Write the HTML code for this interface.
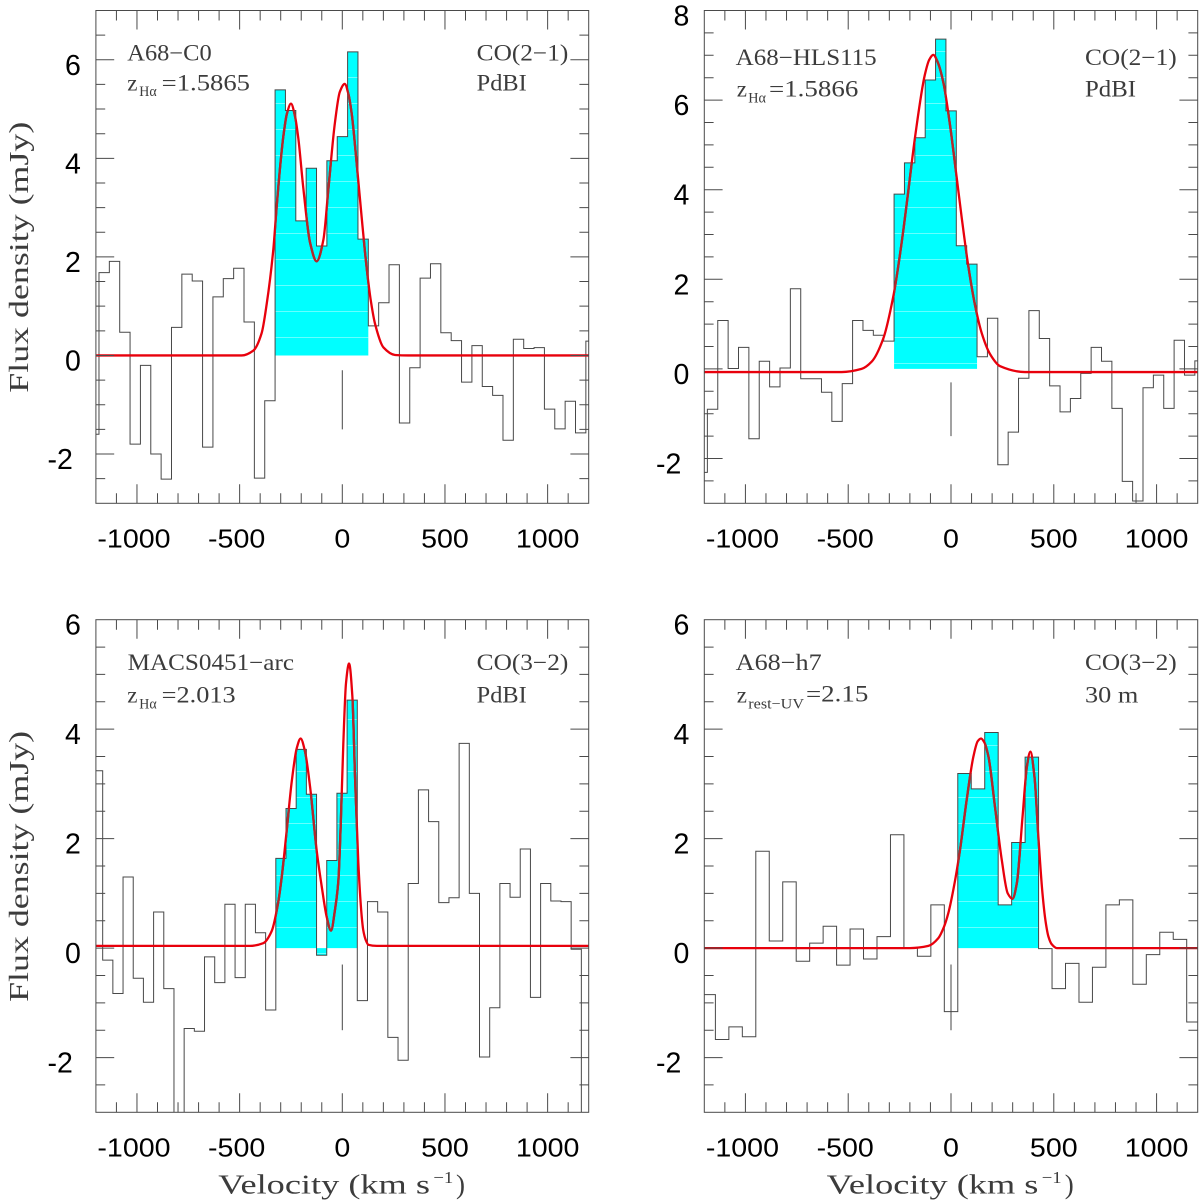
<!DOCTYPE html>
<html lang="en">
<head>
<meta charset="utf-8">
<title>CO line spectra</title>
<style>
html,body{margin:0;padding:0;background:#fff;}
svg{display:block;}
.serif{font-family:"Liberation Serif",serif;font-size:23px;fill:#3c3c3c;}
.sub{font-family:"Liberation Serif",serif;font-size:15px;fill:#3c3c3c;}
.title{font-family:"Liberation Serif",serif;font-size:27px;fill:#3c3c3c;}
.sup{font-family:"Liberation Serif",serif;font-size:17px;fill:#3c3c3c;}
.tick{font-family:"Liberation Sans",sans-serif;font-size:28.5px;fill:#000;}
</style>
</head>
<body>
<svg id="figure" xmlns="http://www.w3.org/2000/svg" width="1200" height="1203" viewBox="0 0 1200 1203">
  <defs>
    <pattern id="bands-top" patternUnits="userSpaceOnUse" width="10" height="26" y="25"><rect width="10" height="1" fill="#fff" opacity="0.4"/></pattern>
    <pattern id="bands-bottom" patternUnits="userSpaceOnUse" width="10" height="26" y="17"><rect width="10" height="1" fill="#fff" opacity="0.4"/></pattern>
  </defs>
  <rect width="1200" height="1203" fill="#fff"/>
  <g id="plots"></g>

  <g>
    <text class="serif" x="127.3" y="60.7" textLength="84.4" lengthAdjust="spacingAndGlyphs">A68−C0</text>
    <text class="serif" x="127.3" y="90.7">z</text>
    <text class="sub" x="139.3" y="96" textLength="17.4" lengthAdjust="spacingAndGlyphs">Hα</text>
    <text class="serif" x="161.7" y="90.7" textLength="88.3" lengthAdjust="spacingAndGlyphs">=1.5865</text>
    <text class="serif" x="476.7" y="60.7" textLength="91.6" lengthAdjust="spacingAndGlyphs">CO(2−1)</text>
    <text class="serif" x="476.7" y="90.7" textLength="50" lengthAdjust="spacingAndGlyphs">PdBI</text>
    <text class="title" x="28" y="392.7" textLength="271" lengthAdjust="spacingAndGlyphs" transform="rotate(-90 28 392.7)">Flux density (mJy)</text>
  </g>

  <g>
    <text class="serif" x="735.7" y="65" textLength="141" lengthAdjust="spacingAndGlyphs">A68−HLS115</text>
    <text class="serif" x="736.7" y="96.7">z</text>
    <text class="sub" x="748.3" y="102.7" textLength="17.7" lengthAdjust="spacingAndGlyphs">Hα</text>
    <text class="serif" x="769" y="96.7" textLength="89.3" lengthAdjust="spacingAndGlyphs">=1.5866</text>
    <text class="serif" x="1085" y="65" textLength="91.7" lengthAdjust="spacingAndGlyphs">CO(2−1)</text>
    <text class="serif" x="1085" y="96.7" textLength="51" lengthAdjust="spacingAndGlyphs">PdBI</text>
  </g>

  <g>
    <text class="serif" x="127.7" y="670" textLength="166.3" lengthAdjust="spacingAndGlyphs">MACS0451−arc</text>
    <text class="serif" x="127.3" y="702.7">z</text>
    <text class="sub" x="139.3" y="708.3" textLength="17.4" lengthAdjust="spacingAndGlyphs">Hα</text>
    <text class="serif" x="161.7" y="702.7" textLength="74" lengthAdjust="spacingAndGlyphs">=2.013</text>
    <text class="serif" x="476.7" y="670" textLength="91.6" lengthAdjust="spacingAndGlyphs">CO(3−2)</text>
    <text class="serif" x="476.7" y="702.3" textLength="50" lengthAdjust="spacingAndGlyphs">PdBI</text>
    <text class="title" x="28" y="1001.9" textLength="271" lengthAdjust="spacingAndGlyphs" transform="rotate(-90 28 1001.9)">Flux density (mJy)</text>
    <text class="title" x="218.3" y="1193.3" textLength="211.7" lengthAdjust="spacingAndGlyphs">Velocity (km s</text>
    <text class="sup" x="433.3" y="1183" textLength="20" lengthAdjust="spacingAndGlyphs">−1</text>
    <text class="title" x="456" y="1193.3">)</text>
  </g>

  <g>
    <text class="serif" x="735.7" y="670" textLength="86" lengthAdjust="spacingAndGlyphs">A68−h7</text>
    <text class="serif" x="736.7" y="702.7">z</text>
    <text class="sub" x="748.3" y="708.3" textLength="55.7" lengthAdjust="spacingAndGlyphs">rest−UV</text>
    <text class="serif" x="806" y="701.7" textLength="62.3" lengthAdjust="spacingAndGlyphs">=2.15</text>
    <text class="serif" x="1085" y="670" textLength="91.7" lengthAdjust="spacingAndGlyphs">CO(3−2)</text>
    <text class="serif" x="1085" y="702.3" textLength="53.3" lengthAdjust="spacingAndGlyphs">30 m</text>
    <text class="title" x="826.7" y="1193.3" textLength="211.7" lengthAdjust="spacingAndGlyphs">Velocity (km s</text>
    <text class="sup" x="1041.7" y="1183" textLength="20" lengthAdjust="spacingAndGlyphs">−1</text>
    <text class="title" x="1064.7" y="1193.3">)</text>
  </g>
</svg>

<script>
// Shared tick labels
const xTickLabels = ['-1000', '-500', '0', '500', '1000'];
const yTickLabelsSix = ['-2', '0', '2', '4', '6'];
const yTickLabelsEight = ['-2', '0', '2', '4', '6', '8'];

// Panel A68-C0: histogram flux per velocity bin (mJy)
const c0Flux = [-1.60, 1.68, 1.91, 0.47, -1.80, -0.20, -2.00, -2.51, 0.57, 1.65, 1.51, -1.86, 1.19, 1.56, 1.77, 0.68, -2.49, -0.92, 5.39, 4.97, 2.73, 3.80, 2.22, 3.95, 4.44, 6.16, 2.36, 0.60, 1.07, 1.84, -1.37, -0.25, 1.57, 1.86, 0.46, 0.30, -0.54, 0.20, -0.63, -0.81, -1.72, 0.33, 0.14, 0.16, -1.09, -1.49, -0.93, -1.57, 0.29];
const c0FitVelocity = [-1200, -490, -433, -393, -368, -336, -320, -300, -287, -270, -250, -230, -214, -190, -157, -125, -92, -68, -36, -12, 12, 30, 46, 70, 94, 110, 127, 140, 159, 201, 257, 320, 1200];
const c0FitFlux = [0, 0, 0.10, 0.45, 1.05, 2.15, 3.00, 3.95, 4.45, 4.90, 5.11, 4.85, 4.40, 3.40, 2.29, 1.91, 2.35, 3.37, 4.72, 5.35, 5.51, 5.30, 4.90, 3.90, 2.82, 2.12, 1.48, 1.08, 0.65, 0.16, 0.01, 0, 0];

// Panel A68-HLS115
const hlsFlux = [-2.31, -0.90, 1.08, 0.01, 0.48, -1.56, 0.17, -0.40, 0.02, 1.79, -0.22, -0.22, -0.52, -1.17, -0.33, 1.08, 0.86, 0.75, 0.62, 3.90, 4.60, 5.16, 6.45, 7.36, 5.76, 2.75, 2.34, 0.27, 1.13, -2.14, -1.41, -0.21, 1.30, 0.68, -0.38, -0.96, -0.66, -0.10, 0.48, 0.17, -0.88, -2.51, -2.95, -0.42, -0.14, -0.88, 0.64, -0.14, 0.18];
const hlsFitVelocity = [-1200, -532, -435, -386, -330, -281, -264, -232, -208, -175, -127, -106, -86, -65, -37, -5, 28, 52, 84, 117, 150, 190, 239, 360, 1200];
const hlsFitFlux = [-0.07, -0.07, 0, 0.16, 0.67, 1.61, 2.07, 3.09, 3.96, 5.17, 6.57, 6.90, 7.01, 6.85, 6.39, 5.45, 4.26, 3.38, 2.30, 1.42, 0.79, 0.33, 0.06, -0.07, -0.07];

// Panel MACS0451-arc
const macsFlux = [3.24, -0.22, -0.83, 1.30, -0.55, -0.99, 0.66, -0.74, -3.50, -1.47, -1.52, -0.16, -0.63, 0.80, -0.54, 0.80, 0.28, -1.13, 1.64, 2.55, 3.63, 2.81, -0.13, 1.60, 2.83, 4.53, -0.96, 0.85, 0.66, -1.63, -2.05, 1.18, 2.89, 2.31, 0.83, 0.92, 3.74, 1.00, -1.99, -1.09, 1.18, 0.93, 1.81, -0.90, 1.18, 0.86, 0.85, -0.02, -3.50];
const macsFitVelocity = [-1200, -450, -385, -344, -312, -295, -271, -246, -222, -203, -182, -157, -125, -100, -76, -55, -36, -19, -8, 5, 18, 33, 49, 62, 78, 94, 102, 115, 127, 168, 1200];
const macsFitFlux = [0.04, 0.04, 0.09, 0.31, 0.84, 1.30, 2.14, 3.05, 3.65, 3.83, 3.60, 2.95, 1.79, 1.12, 0.57, 0.32, 0.69, 1.24, 2.22, 3.74, 4.84, 5.20, 4.60, 3.13, 1.56, 0.60, 0.33, 0.14, 0.06, 0.04, 0.04];

// Panel A68-h7
const h7Flux = [-0.85, -1.67, -1.44, -1.62, 1.77, 0.13, 1.21, -0.24, 0.09, 0.40, -0.31, 0.35, -0.20, 0.21, 2.07, 0.01, -0.15, 0.79, -1.16, 3.19, 2.91, 3.94, 0.79, 1.93, 3.49, -0.01, -0.74, -0.28, -0.99, -0.35, 0.79, 0.88, -0.66, -0.12, 0.29, 0.16, -1.35];
const h7FitVelocity = [-1200, -200, -110, -62, -35, -13, 19, 44, 76, 109, 130, 146, 162, 182, 214, 247, 276, 299, 320, 348, 369, 386, 406, 425, 445, 460, 474, 490, 515, 1200];
const h7FitFlux = [0, 0, 0.04, 0.18, 0.38, 0.64, 1.22, 1.80, 2.70, 3.50, 3.78, 3.83, 3.76, 3.50, 2.58, 1.61, 1.00, 0.90, 1.18, 2.40, 3.31, 3.59, 3.13, 2.03, 1.00, 0.49, 0.21, 0.07, 0, 0];

const SVG_NS = 'http://www.w3.org/2000/svg';
const plots = document.getElementById('plots');
const AXIS_COLOR = '#4a4a4a';

function makeEl(tag, attrs, parent) {
  const el = document.createElementNS(SVG_NS, tag);
  for (const k in attrs) el.setAttribute(k, attrs[k]);
  parent.appendChild(el);
  return el;
}

// Monotone cubic through the points
function smoothPath(xs, ys) {
  const n = xs.length;
  const sec = [];
  for (let i = 0; i < n - 1; i++) sec.push((ys[i + 1] - ys[i]) / (xs[i + 1] - xs[i]));
  const m = [sec[0]];
  for (let i = 1; i < n - 1; i++) {
    if (sec[i - 1] * sec[i] <= 0) { m.push(0); continue; }
    const h0 = xs[i] - xs[i - 1], h1 = xs[i + 1] - xs[i];
    const w1 = 2 * h1 + h0, w2 = h1 + 2 * h0;
    m.push((w1 + w2) / (w1 / sec[i - 1] + w2 / sec[i]));
  }
  m.push(sec[n - 2]);
  let d = 'M' + xs[0].toFixed(2) + ' ' + ys[0].toFixed(2);
  for (let i = 0; i < n - 1; i++) {
    const h = (xs[i + 1] - xs[i]) / 3;
    d += 'C' + (xs[i] + h).toFixed(2) + ' ' + (ys[i] + m[i] * h).toFixed(2) + ' ' +
      (xs[i + 1] - h).toFixed(2) + ' ' + (ys[i + 1] - m[i + 1] * h).toFixed(2) + ' ' +
      xs[i + 1].toFixed(2) + ' ' + ys[i + 1].toFixed(2);
  }
  return d;
}

function drawPanel(p) {
  const xMin = -1200, xMax = 1200;
  const xScale = v => p.left + (v - xMin) * (p.right - p.left) / (xMax - xMin);
  const yScale = f => p.top + (p.yMax - f) * (p.bottom - p.top) / (p.yMax - p.yMin);

  const g = makeEl('g', {}, plots);
  
  

  const clipId = 'clip-' + p.name;
  const clip = makeEl('clipPath', { id: clipId }, g);
  makeEl('rect', { x: p.left, y: p.top, width: p.right - p.left, height: p.bottom - p.top }, clip);

  const edge = i => xScale(p.binStart + i * p.binWidth);
  const base = yScale(0);

  // Cyan integrated region
  let fillD = 'M' + edge(p.fillFirst).toFixed(2) + ' ' + base.toFixed(2);
  for (let i = p.fillFirst; i <= p.fillLast; i++) {
    fillD += 'V' + yScale(p.flux[i]).toFixed(2) + 'H' + edge(i + 1).toFixed(2);
  }
  fillD += 'V' + base.toFixed(2) + 'Z';
  const fill = makeEl('path', { d: fillD, fill: '#00ffff', 'clip-path': 'url(#' + clipId + ')' }, g);
  
  
  const bands = makeEl('path', { d: fillD, fill: 'url(#' + p.bands + ')', 'clip-path': 'url(#' + clipId + ')' }, g);
  
  

  const fillClipId = 'fill-clip-' + p.name;
  const fillClip = makeEl('clipPath', { id: fillClipId }, g);
  makeEl('path', { d: fillD }, fillClip);

  // Step histogram
  let histD = 'M' + edge(0).toFixed(2) + ' ' + yScale(p.flux[0]).toFixed(2);
  for (let i = 0; i < p.flux.length; i++) {
    histD += 'V' + yScale(p.flux[i]).toFixed(2) + 'H' + edge(i + 1).toFixed(2);
  }
  const hist = makeEl('path', { d: histD, fill: 'none', stroke: '#484848', 'stroke-width': 1, 'clip-path': 'url(#' + clipId + ')' }, g);
  
  

  // Fitted curve
  const fitD = smoothPath(p.fitV.map(xScale), p.fitF.map(yScale));
  const fit = makeEl('path', {
    d: fitD,
    fill: 'none', stroke: '#e8000c', 'stroke-width': 2.3, 'clip-path': 'url(#' + clipId + ')'
  }, g);
  
  

  // Same curve where it crosses the cyan region (darker there in the reference)
  const fitOver = makeEl('path', {
    d: fitD,
    fill: 'none', stroke: '#b02a2c', 'stroke-width': 2.3, 'clip-path': 'url(#' + fillClipId + ')'
  }, g);
  
  

  // Systemic velocity marker
  const marker = makeEl('line', { x1: xScale(0), x2: xScale(0), y1: yScale(-0.3), y2: yScale(-1.5), stroke: '#444', 'stroke-width': 1 }, g);
  
  

  // Frame
  const frame = makeEl('rect', { x: p.left, y: p.top, width: p.right - p.left, height: p.bottom - p.top, fill: 'none', stroke: AXIS_COLOR, 'stroke-width': 1 }, g);
  
  

  // Ticks
  let tickD = '';
  for (let v = -1100; v <= 1100; v += 100) {
    const len = v % 500 === 0 ? 19 : 10;
    const x = xScale(v).toFixed(2);
    tickD += 'M' + x + ' ' + p.top + 'v' + len + 'M' + x + ' ' + p.bottom + 'v' + (-len);
  }
  for (let f = p.yMin + 0.5; f < p.yMax; f += 0.5) {
    const len = f % 2 === 0 ? 18.3 : 9.3;
    const y = yScale(f).toFixed(2);
    tickD += 'M' + p.left + ' ' + y + 'h' + len + 'M' + p.right + ' ' + y + 'h' + (-len);
  }
  const ticks = makeEl('path', { d: tickD, fill: 'none', stroke: AXIS_COLOR, 'stroke-width': 1 }, g);
  
  

  // X tick labels
  xTickLabels.forEach(label => {
    const v = Number(label);
    const x = xScale(v) + (v < 0 ? -3 : 0);
    const y = p.bottom + 44;
    const t = makeEl('text', { class: 'tick', 'text-anchor': 'middle', style: 'font-size:26px', transform: 'translate(' + x.toFixed(2) + ' ' + y.toFixed(2) + ') scale(1.1 1)' }, g);
    
    
    t.textContent = label;
  });

  // Y tick labels
  p.yLabels.forEach(label => {
    const f = Number(label);
    const anchorX = p.left + (f < 0 ? -23 : -15);
    const t = makeEl('text', { class: 'tick', 'text-anchor': 'end', x: anchorX.toFixed(2), y: (yScale(f) + 15).toFixed(2) }, g);
    
    
    t.textContent = label;
  });
}

drawPanel({ name: 'a68-c0', left: 95.9, right: 588.7, top: 10.5, bottom: 503.3, yMin: -3, yMax: 7, yLabels: yTickLabelsSix, flux: c0Flux, binStart: -1235.45, binWidth: 50.45, fillFirst: 18, fillLast: 26, fitV: c0FitVelocity, fitF: c0FitFlux, bands: 'bands-top' });
drawPanel({ name: 'a68-hls115', left: 704.3, right: 1197.7, top: 10.5, bottom: 503.3, yMin: -3, yMax: 8, yLabels: yTickLabelsEight, flux: hlsFlux, binStart: -1235.45, binWidth: 50.45, fillFirst: 19, fillLast: 26, fitV: hlsFitVelocity, fitF: hlsFitFlux, bands: 'bands-top' });
drawPanel({ name: 'macs0451-arc', left: 95.9, right: 588.7, top: 619.7, bottom: 1112.3, yMin: -3, yMax: 6, yLabels: yTickLabelsSix, flux: macsFlux, binStart: -1216.6, binWidth: 49.6, fillFirst: 18, fillLast: 25, fitV: macsFitVelocity, fitF: macsFitFlux, bands: 'bands-bottom' });
drawPanel({ name: 'a68-h7', left: 704.3, right: 1197.7, top: 619.7, bottom: 1112.3, yMin: -3, yMax: 6, yLabels: yTickLabelsSix, flux: h7Flux, binStart: -1211.5, binWidth: 65.5, fillFirst: 19, fillLast: 24, fitV: h7FitVelocity, fitF: h7FitFlux, bands: 'bands-bottom' });
</script>
</body>
</html>
